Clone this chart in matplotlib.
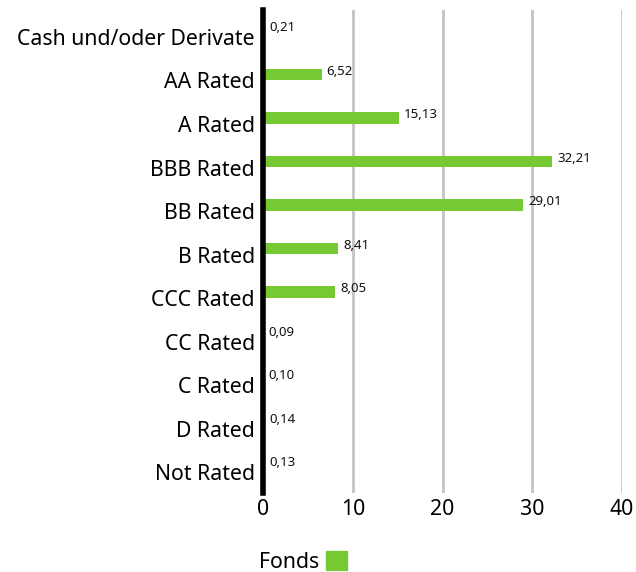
import matplotlib.pyplot as plt
from matplotlib.patches import Patch

# Daten
kategorien = ["Cash und/oder Derivate", "AA Rated", "A Rated", "BBB Rated", "BB Rated",
              "B Rated", "CCC Rated", "CC Rated", "C Rated", "D Rated", "Not Rated"]
fonds = [0.21, 6.52, 15.13, 32.21, 29.01, 8.41, 8.05, 0.09, 0.10, 0.14, 0.13]
x_ticks = [0, 10, 20, 30, 40]

gruen = "#76c933"
plt.rcParams['font.family'] = ['Noto Sans', 'DejaVu Sans']

fig = plt.figure(figsize=(6.36, 5.72), dpi=100)
ax = fig.add_axes([263 / 636, 1 - 493 / 572, (622 - 263) / 636, (493 - 10) / 572])

pos = list(range(len(kategorien)))
ax.barh([p - 0.07 for p in pos], fonds, height=0.26, color=gruen, zorder=3)

for p, v in zip(pos, fonds):
    ax.text(v + 0.55, p - 0.14, f"{v:.2f}".replace(".", ","), fontsize=9.5,
            va="center", ha="left", color="#111111", zorder=4)

ax.set_ylim(len(kategorien) - 0.45, -0.55)
ax.set_xlim(0, 40)
ax.set_yticks([p + 0.07 for p in pos])
ax.set_yticklabels(kategorien, fontsize=15.3)
ax.set_xticks(x_ticks)
ax.set_xticklabels([str(t) for t in x_ticks], fontsize=15.3)
ax.tick_params(axis="y", length=0, pad=6)
ax.tick_params(axis="x", length=0, pad=4)

for t in x_ticks[1:]:
    ax.axvline(t, color="#c4c4c4", lw=2, zorder=1)

for s in ["top", "right", "bottom"]:
    ax.spines[s].set_visible(False)
ax.spines["left"].set_linewidth(4)
ax.spines["left"].set_color("black")
ax.spines["left"].set_zorder(5)

fig.legend(handles=[Patch(color=gruen, label="Fonds")], loc="lower left",
           bbox_to_anchor=(240 / 636, -0.035), frameon=False, markerfirst=False,
           fontsize=15.3, handlelength=1.0, handleheight=1.0, handletextpad=0.3)

fig.savefig("out.png", dpi=100)
